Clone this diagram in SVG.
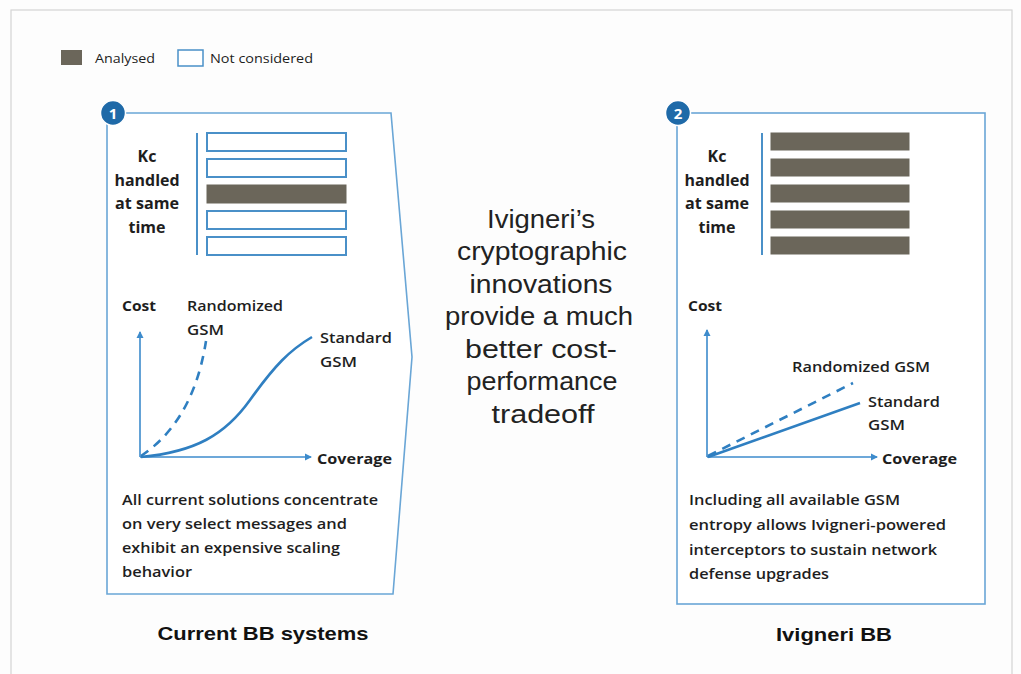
<svg xmlns="http://www.w3.org/2000/svg" width="1021" height="674" viewBox="0 0 1021 674">
<style>
.frame{fill:none;stroke:#d4d4d4;stroke-width:1.2}
.panel{fill:#fff;stroke:#6aa6d6;stroke-width:1.6}
.badge{fill:#1f6aa8;stroke:#fff;stroke-width:1.5}
.badgeT{font-family:"Open Sans",sans-serif;font-weight:700;font-size:15px;fill:#fff;text-anchor:middle}
.lbl{font-family:"Open Sans","Liberation Sans",sans-serif;font-size:15px;fill:#1e1e1e}
.b{font-weight:700}
.sb{font-weight:600}
.ctr{text-anchor:middle}
.empty{fill:#fff;stroke:#4a90c8;stroke-width:2}
.full{fill:#6b665a;stroke:#6b665a;stroke-width:1}
.div{stroke:#4a90c8;stroke-width:2}
.axis{stroke:#3d8bcc;stroke-width:1.6;fill:none}
.curve{stroke:#2f7fc1;stroke-width:2.6;fill:none}
.dash{stroke:#2f7fc1;stroke-width:2.6;fill:none;stroke-dasharray:9 7}
.big{font-family:"Liberation Sans",Arial,sans-serif;font-size:26px;fill:#222;text-anchor:middle}
.cap{font-family:"Liberation Sans",Arial,sans-serif;font-size:19px;font-weight:700;fill:#111;text-anchor:middle}
</style>
<defs>
<marker id="arr" markerWidth="8" markerHeight="8" refX="6" refY="4" orient="auto" markerUnits="userSpaceOnUse">
<path d="M0,0.5 L7,4 L0,7.5 Z" fill="#3d8bcc"/>
</marker>
</defs>
<rect x="0" y="0" width="1021" height="674" fill="#fdfdfd"/>
<rect class="frame" x="11" y="10" width="1001" height="700"/>

<g id="legend">
<rect x="61" y="50" width="21" height="15" fill="#6b665a"/>
<text class="lbl" x="95" y="63" style="font-size:13px" textLength="60" lengthAdjust="spacingAndGlyphs">Analysed</text>
<rect x="178" y="50" width="25" height="16" fill="#fff" stroke="#4a90c8" stroke-width="1.5"/>
<text class="lbl" x="210" y="63" style="font-size:13px" textLength="103" lengthAdjust="spacingAndGlyphs">Not considered</text>
</g>

<g id="panel1">
<path class="panel" d="M107,113 L391,113 L412,357 L393,594 L107,594 Z"/>
<circle class="badge" cx="113" cy="113" r="12.5"/>
<text class="badgeT" x="113" y="118.5">1</text>
<text class="lbl b ctr" x="147" y="162" style="font-size:16px">Kc</text>
<text class="lbl b ctr" x="147" y="186" style="font-size:16px" textLength="65" lengthAdjust="spacingAndGlyphs">handled</text>
<text class="lbl b ctr" x="147" y="209" style="font-size:16px" textLength="64" lengthAdjust="spacingAndGlyphs">at same</text>
<text class="lbl b ctr" x="147" y="233" style="font-size:16px">time</text>
<line class="div" x1="197" y1="133" x2="197" y2="255"/>
<rect class="empty" x="207" y="133" width="139" height="18"/>
<rect class="empty" x="207" y="159" width="139" height="18"/>
<rect class="full" x="207" y="185" width="139" height="18"/>
<rect class="empty" x="207" y="211" width="139" height="18"/>
<rect class="empty" x="207" y="237" width="139" height="18"/>
<text class="lbl b" x="122" y="311" textLength="34" lengthAdjust="spacingAndGlyphs">Cost</text>
<text class="lbl sb" x="187" y="311" textLength="96" lengthAdjust="spacingAndGlyphs">Randomized</text>
<text class="lbl sb" x="187" y="335" textLength="37" lengthAdjust="spacingAndGlyphs">GSM</text>
<text class="lbl sb" x="320" y="343" textLength="72" lengthAdjust="spacingAndGlyphs">Standard</text>
<text class="lbl sb" x="320" y="367" textLength="37" lengthAdjust="spacingAndGlyphs">GSM</text>
<text class="lbl b" x="317" y="464" textLength="75" lengthAdjust="spacingAndGlyphs">Coverage</text>
<line class="axis" x1="140" y1="457" x2="140" y2="332" marker-end="url(#arr)"/>
<line class="axis" x1="140" y1="457" x2="311" y2="457" marker-end="url(#arr)"/>
<path class="dash" d="M141,456 C168,438 196,405 206,341"/>
<path class="curve" d="M141,457 C195,452 225,435 250,400 S 290,350 312,337"/>
<text class="lbl sb" x="122" y="505" textLength="256" lengthAdjust="spacingAndGlyphs">All current solutions concentrate</text>
<text class="lbl sb" x="122" y="529" textLength="225" lengthAdjust="spacingAndGlyphs">on very select messages and</text>
<text class="lbl sb" x="122" y="553" textLength="218" lengthAdjust="spacingAndGlyphs">exhibit an expensive scaling</text>
<text class="lbl sb" x="122" y="577" textLength="70" lengthAdjust="spacingAndGlyphs">behavior</text>
</g>

<g id="center-text">
<text class="big" x="541" y="228" textLength="108" lengthAdjust="spacingAndGlyphs">Ivigneri’s</text>
<text class="big" x="542" y="260" textLength="170" lengthAdjust="spacingAndGlyphs">cryptographic</text>
<text class="big" x="541" y="293" textLength="143" lengthAdjust="spacingAndGlyphs">innovations</text>
<text class="big" x="539" y="325" textLength="188" lengthAdjust="spacingAndGlyphs">provide a much</text>
<text class="big" x="541" y="358" textLength="152" lengthAdjust="spacingAndGlyphs">better cost-</text>
<text class="big" x="542" y="390" textLength="151" lengthAdjust="spacingAndGlyphs">performance</text>
<text class="big" x="543" y="423" textLength="103" lengthAdjust="spacingAndGlyphs">tradeoff</text>
</g>

<g id="panel2">
<rect class="panel" x="677" y="113" width="308" height="491"/>
<circle class="badge" cx="678" cy="113" r="12.5"/>
<text class="badgeT" x="678" y="118.5">2</text>
<text class="lbl b ctr" x="717" y="162" style="font-size:16px">Kc</text>
<text class="lbl b ctr" x="717" y="186" style="font-size:16px" textLength="65" lengthAdjust="spacingAndGlyphs">handled</text>
<text class="lbl b ctr" x="717" y="209" style="font-size:16px" textLength="64" lengthAdjust="spacingAndGlyphs">at same</text>
<text class="lbl b ctr" x="717" y="233" style="font-size:16px">time</text>
<line class="div" x1="762" y1="133" x2="762" y2="255"/>
<rect class="full" x="771" y="133" width="138" height="17"/>
<rect class="full" x="771" y="159" width="138" height="17"/>
<rect class="full" x="771" y="185" width="138" height="17"/>
<rect class="full" x="771" y="211" width="138" height="17"/>
<rect class="full" x="771" y="237" width="138" height="17"/>
<text class="lbl b" x="688" y="311" textLength="34" lengthAdjust="spacingAndGlyphs">Cost</text>
<text class="lbl sb" x="792" y="372" textLength="138" lengthAdjust="spacingAndGlyphs">Randomized GSM</text>
<text class="lbl sb" x="868" y="407" textLength="72" lengthAdjust="spacingAndGlyphs">Standard</text>
<text class="lbl sb" x="868" y="430" textLength="37" lengthAdjust="spacingAndGlyphs">GSM</text>
<text class="lbl b" x="882" y="464" textLength="75" lengthAdjust="spacingAndGlyphs">Coverage</text>
<line class="axis" x1="707" y1="457" x2="707" y2="330" marker-end="url(#arr)"/>
<line class="axis" x1="707" y1="457" x2="877" y2="457" marker-end="url(#arr)"/>
<path class="dash" d="M708,456 L853,383"/>
<path class="curve" d="M708,457 L860,403"/>
<text class="lbl sb" x="689" y="505" textLength="211" lengthAdjust="spacingAndGlyphs">Including all available GSM</text>
<text class="lbl sb" x="689" y="530" textLength="257" lengthAdjust="spacingAndGlyphs">entropy allows Ivigneri-powered</text>
<text class="lbl sb" x="689" y="555" textLength="248" lengthAdjust="spacingAndGlyphs">interceptors to sustain network</text>
<text class="lbl sb" x="689" y="579" textLength="140" lengthAdjust="spacingAndGlyphs">defense upgrades</text>
</g>

<g id="captions">
<text class="cap" x="263" y="640" textLength="211" lengthAdjust="spacingAndGlyphs">Current BB systems</text>
<text class="cap" x="834" y="641" textLength="116" lengthAdjust="spacingAndGlyphs">Ivigneri BB</text>
</g>

<g id="connectors"></g>
</svg>
